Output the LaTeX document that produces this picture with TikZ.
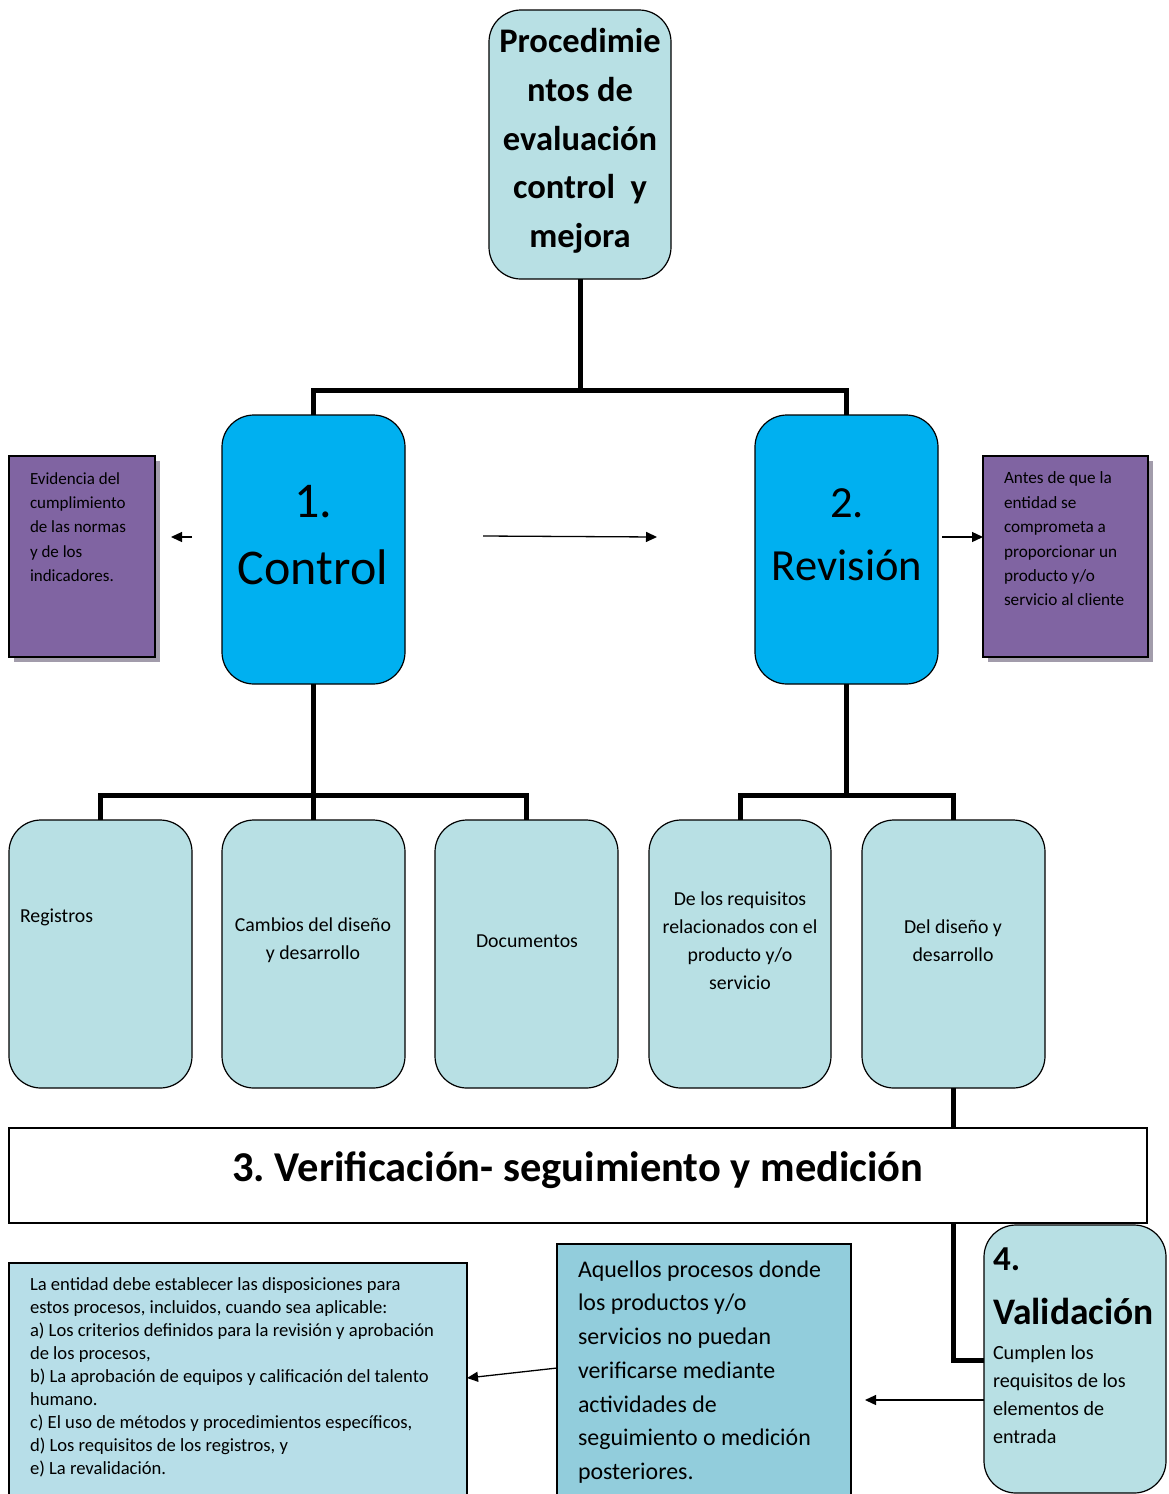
\documentclass[tikz,border=0pt]{standalone}
\usepackage{fontspec}
\setmainfont{Carlito}
\usetikzlibrary{arrows.meta,shadows}
\definecolor{paleteal}{HTML}{B8E0E4}
\definecolor{paleblue}{HTML}{B7DEE8}
\definecolor{midblue}{HTML}{92CDDC}
\definecolor{brightblue}{HTML}{00B0F0}
\definecolor{violet}{HTML}{8064A2}
\definecolor{shade}{HTML}{A29CAB}
\frenchspacing
\begin{document}
\begin{tikzpicture}[x=1pt,y=-1pt,
  every node/.style={inner sep=0pt, outer sep=0pt},
  rbox/.style={draw=black, line width=1.2pt, rounded corners=32pt, anchor=north west},
  tealbox/.style={rbox, fill=paleteal},
  bluebox/.style={rbox, fill=brightblue},
  notebox/.style={draw=black, line width=2pt, fill=violet, anchor=north west,
    drop shadow={shadow xshift=5pt, shadow yshift=-5pt, fill=shade, opacity=1}},
  plainbox/.style={draw=black, line width=1.2pt, anchor=north west},
  bus/.style={line width=5pt, line cap=butt},
  link/.style={line width=1.3pt, -{Triangle[length=11pt,width=10pt]}},
  ltxt/.style={align=left, anchor=west},
  ctxt/.style={align=center, anchor=center}]
\useasboundingbox (0,0) rectangle (1168,1494);

% ---- boxes ----
\node[tealbox, minimum width=182pt, minimum height=269pt] (top) at (489,10) {};
\node[bluebox, minimum width=183pt, minimum height=269pt] (ctl) at (222,415) {};
\node[bluebox, minimum width=183pt, minimum height=269pt] (rev) at (755,415) {};
\node[notebox, minimum width=146pt, minimum height=201pt] (lnote) at (9,456) {};
\node[notebox, minimum width=165pt, minimum height=201pt] (rnote) at (983,456) {};

\node[tealbox, minimum width=183pt, minimum height=268pt] (reg) at (9,820) {};
\node[tealbox, minimum width=183pt, minimum height=268pt] (cam) at (222,820) {};
\node[tealbox, minimum width=183pt, minimum height=268pt] (doc) at (435,820) {};
\node[tealbox, minimum width=182pt, minimum height=268pt] (req) at (649,820) {};
\node[tealbox, minimum width=183pt, minimum height=268pt] (dis) at (862,820) {};

% ---- connectors of the tree ----
\coordinate (busA) at (top.south |- 0,390);
\coordinate (busB) at (ctl.south |- 0,795);
\coordinate (busC) at (rev.south |- 0,795);
\draw[bus] (top.south) -- (busA);
\draw[bus] (busA) -| (ctl.north);
\draw[bus] (busA) -| (rev.north);
\draw[bus] (ctl.south) -- (busB);
\draw[bus] (busB) -| (reg.north);
\draw[bus] (busB) -- (cam.north);
\draw[bus] (busB) -| (doc.north);
\draw[bus] (rev.south) -- (busC);
\draw[bus] (busC) -| (req.north);
\draw[bus] (busC) -| (dis.north);

% link to the validation box, drawn first so the band covers it
\coordinate (elbow) at (dis.south |- 0,1360);
\draw[bus] (dis.south) -- (elbow) -- (984,1360);

\node[plainbox, fill=white, minimum width=1138pt, minimum height=95pt] (ver) at (9,1128) {};
\node[tealbox, minimum width=182pt, minimum height=268pt] (val) at (984,1225) {};
\node[plainbox, fill=midblue, minimum width=294pt, minimum height=252pt] (mid) at (557,1244) {};
\node[plainbox, fill=paleblue, minimum width=458pt, minimum height=232pt] (bl) at (9,1263) {};

% ---- arrows ----
\coordinate (a1s) at (192,537);
\coordinate (a1e) at (171,537);
\draw[link] (a1s) -- (a1e);
\coordinate (a2s) at (483,536);
\coordinate (a2e) at (657,537);
\draw[link] (a2s) -- (a2e);
\draw[link] ([xshift=4pt]rev.east |- 0,537) -- (rnote.west |- 0,537);
\coordinate (a4e) at (865,1400);
\draw[link] (val.west |- 0,1400) -- (a4e);
\draw[link] (mid.west |- 0,1368) -- (bl.east |- 0,1378);

% ---- texts ----
\node[ctxt, font=\fontsize{34.5}{48.7}\selectfont\bfseries] (ttop) at (580,141)
  {Procedimie\\ntos de\\evaluación\\control\ \ y\\mejora};
\node[ctxt, font=\fontsize{50}{67}\selectfont] (tctl) at (313,535) {1.\\Control};
\node[ctxt, font=\fontsize{44.5}{63}\selectfont] (trev) at (847,535) {2.\\Revisión};
\node[ltxt, font=\fontsize{17}{24.2}\selectfont] (tlnote) at (30,527)
  {Evidencia del\\cumplimiento\\de las normas\\y de los\\indicadores.};
\node[ltxt, font=\fontsize{17.2}{24.4}\selectfont] (trnote) at (1004,539)
  {Antes de que la\\entidad se\\comprometa a\\proporcionar un\\producto y/o\\servicio al cliente};
\node[ltxt, font=\fontsize{19.8}{28}\selectfont] (treg) at (20,917) {Registros};
\node[ctxt, font=\fontsize{19.8}{28}\selectfont] (tcam) at (313,940) {Cambios del diseño\\y desarrollo};
\node[ctxt, font=\fontsize{19.8}{28}\selectfont] (tdoc) at (527,941) {Documentos};
\node[ctxt, font=\fontsize{19.8}{28}\selectfont] (treq) at (740,941)
  {De los requisitos\\relacionados con el\\producto y/o\\servicio};
\node[ctxt, font=\fontsize{19.8}{28}\selectfont] (tdis) at (953,941) {Del diseño y\\desarrollo};
\node[ctxt, font=\fontsize{42.5}{46}\selectfont\bfseries] (tver) at (578,1170)
  {3. Verificación- seguimiento y medición};
\node[ltxt, font=\fontsize{35}{40}\selectfont\bfseries] (tval4) at (993,1259) {4.};
\node[ltxt, font=\fontsize{37.5}{40}\selectfont\bfseries] (tval) at (993,1311) {Validación};
\node[ltxt, font=\fontsize{20.1}{28}\selectfont] (tvaltx) at (993,1395)
  {Cumplen los\\requisitos de los\\elementos de\\entrada};
\node[ltxt, font=\fontsize{23.9}{33.7}\selectfont] (tmid) at (578,1372)
  {Aquellos procesos donde\\los productos y/o\\servicios no puedan\\verificarse mediante\\actividades de\\seguimiento o medición\\posteriores.};
\node[ltxt, font=\fontsize{18.6}{23}\selectfont] (tbl) at (30,1377)
  {La entidad debe establecer las disposiciones para\\
   estos procesos, incluidos, cuando sea aplicable:\\
   a) Los criterios definidos para la revisión y aprobación\\
   de los procesos,\\
   b) La aprobación de equipos y calificación del talento\\
   humano.\\
   c) El uso de métodos y procedimientos específicos,\\
   d) Los requisitos de los registros, y\\
   e) La revalidación.};
\end{tikzpicture}
\end{document}
